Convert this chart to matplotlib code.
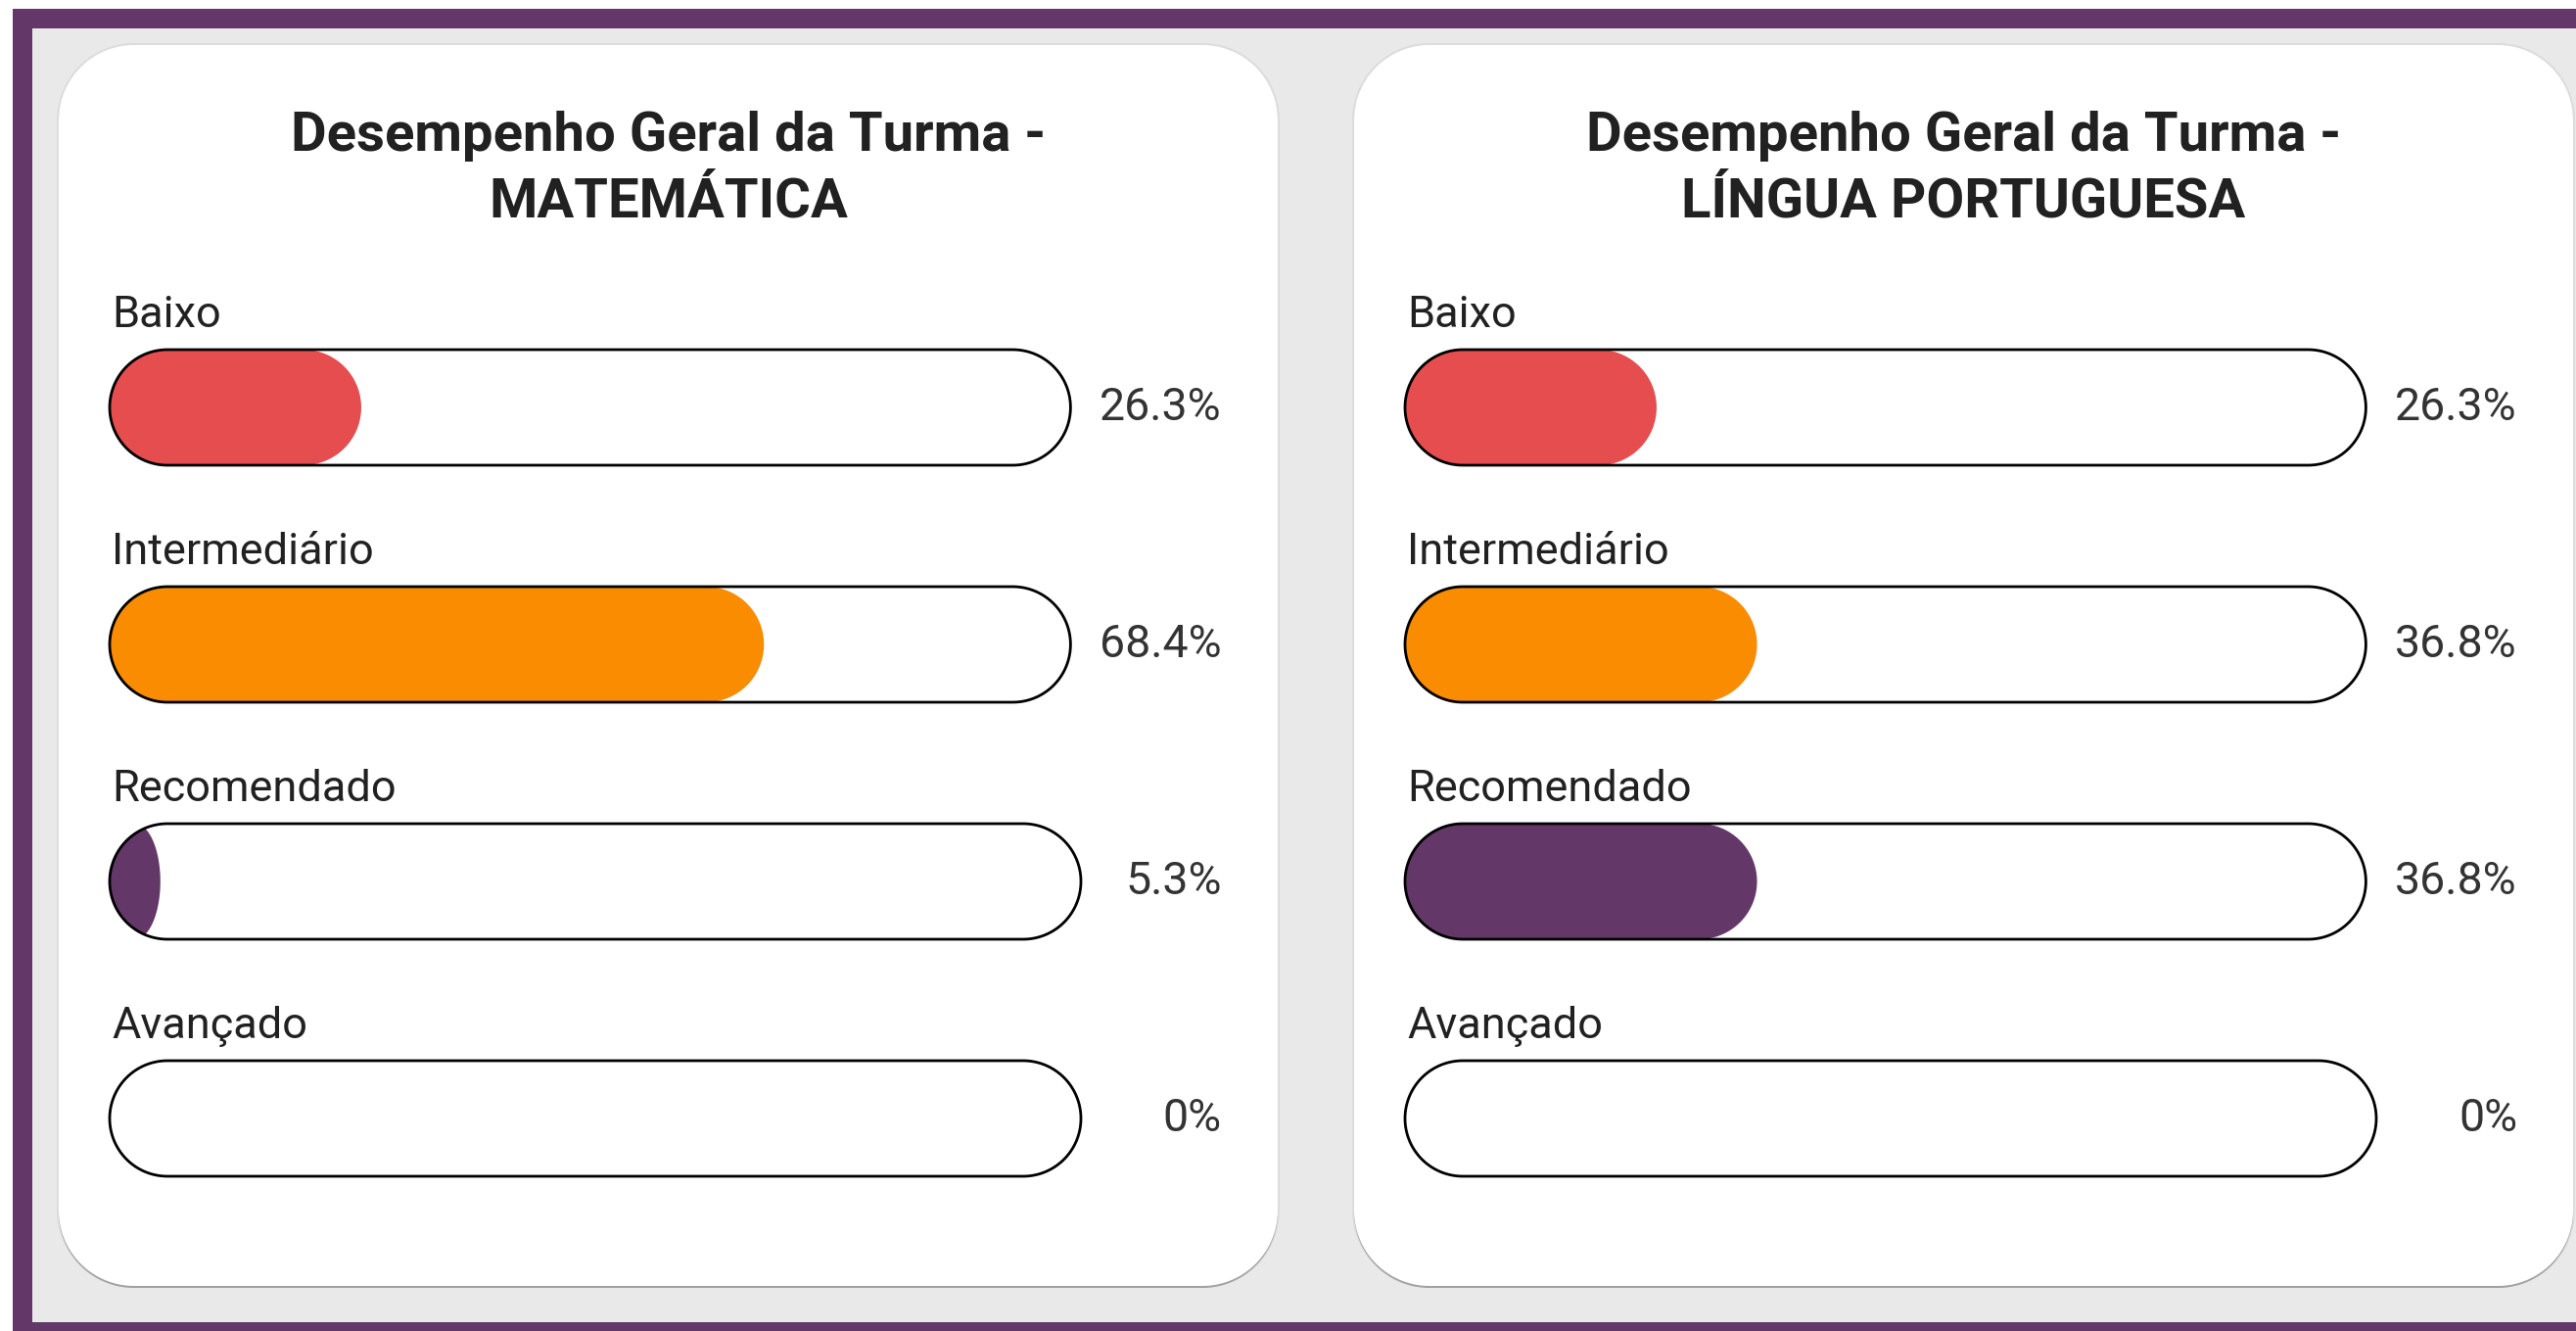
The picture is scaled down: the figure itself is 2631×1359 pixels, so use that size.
import numpy as np
import matplotlib
matplotlib.use('Agg')
import matplotlib.pyplot as plt
from matplotlib.patches import Rectangle, PathPatch
from matplotlib.path import Path

plt.rcParams['font.family'] = ['Roboto', 'DejaVu Sans']

# data
subjects = ['MATEMÁTICA', 'LÍNGUA PORTUGUESA']
levels = ['Baixo', 'Intermediário', 'Recomendado', 'Avançado']
mat_values = [26.3, 68.4, 5.3, 0]
por_values = [26.3, 36.8, 36.8, 0]
mat_labels = ['26.3%', '68.4%', '5.3%', '0%']
por_labels = ['26.3%', '36.8%', '36.8%', '0%']
level_colors = ['#e54d4f', '#f98c00', '#633868', '#633868']

W, H = 2631, 1359
fig = plt.figure(figsize=(W / 100, H / 100), dpi=100)
fig.patch.set_facecolor('white')

bg = fig.add_axes([0, 0, 1, 1])
bg.set_xlim(0, W)
bg.set_ylim(H, 0)
bg.axis('off')
bg.add_patch(Rectangle((13, 9), W, H, color='#633868', lw=0))
bg.add_patch(Rectangle((33, 29), W, 1350 - 29, color='#e9e9e9', lw=0))


def pill(ax, x0, y0, w, h, r, ppu, **kw):
    # rounded box in data coords, r in pixels (x: ppu px per unit, y: px)
    rx = min(r / ppu, w / 2)
    ry = min(r, h / 2)
    centers = [(x0 + w - rx, y0 + h - ry), (x0 + rx, y0 + h - ry),
               (x0 + rx, y0 + ry), (x0 + w - rx, y0 + ry)]
    pts = []
    for i, (cx, cy) in enumerate(centers):
        t = np.linspace(i * np.pi / 2, (i + 1) * np.pi / 2, 40)
        pts.append(np.column_stack([cx + rx * np.cos(t), cy + ry * np.sin(t)]))
    pts = np.vstack(pts + [pts[0][:1]])
    p = PathPatch(Path(pts, closed=True), clip_on=False, **kw)
    ax.add_patch(p)
    return p


card_x = [60, 1383]
card_y = 46
card_w, card_h = 1245, 1267
track_off = 52          # track left, relative to card
bar_h = 118
row_gap = 242
first_bar = 311
ppu = 9.77              # px per percent
renderer = fig.canvas.get_renderer()

panels = [(mat_values, mat_labels), (por_values, por_labels)]
for k, (vals, labs) in enumerate(panels):
    ax = fig.add_axes([card_x[k] / W, 1 - (card_y + card_h) / H, card_w / W, card_h / H])
    ax.set_xlim(-track_off / ppu, (card_w - track_off) / ppu)
    ax.set_ylim(card_h, 0)
    ax.axis('off')
    px = lambda d: d / ppu

    # card + soft shadow
    pill(ax, px(-track_off - 2), -2, px(card_w + 4), card_h + 4, 79, ppu, fc='#dcdcdc', lw=0, zorder=0)
    pill(ax, px(-track_off), 2, px(card_w), card_h, 77, ppu, fc='#a2a2a2', lw=0, zorder=0.5)
    pill(ax, px(-track_off), 0, px(card_w), card_h, 77, ppu, fc='white', lw=0, zorder=1)

    cxm = px(card_w / 2 - track_off)
    ax.text(cxm, 108, 'Desempenho Geral da Turma -', ha='center', va='baseline',
            fontsize=40.5, fontweight='bold', color='#212121')
    ax.text(cxm, 175, subjects[k], ha='center', va='baseline',
            fontsize=40.5, fontweight='bold', color='#212121')

    for i, lev in enumerate(levels):
        top = first_bar + i * row_gap
        ax.text(px(2), top - 23, lev, ha='left', va='baseline', fontsize=32.5, color='#212121')
        t = ax.text(px(1136), top + 72, labs[i], ha='right', va='baseline',
                    fontsize=33.5, color='#333333')
        tw = t.get_window_extent(renderer).width
        track_w = min(1136 - tw - 30, 992)
        face = pill(ax, 0, top, px(track_w), bar_h, bar_h / 2, ppu, fc='white', lw=0, zorder=2)
        if vals[i] > 0:
            f = pill(ax, 0, top, vals[i], bar_h, bar_h / 2, ppu,
                     fc=level_colors[i], lw=0, zorder=3)
            f.set_clip_on(True)
            f.set_clip_path(face)
        pill(ax, 0, top, px(track_w), bar_h, bar_h / 2, ppu, fc='none', ec='black', lw=2, zorder=4)

fig.savefig('out.png', dpi=100)
